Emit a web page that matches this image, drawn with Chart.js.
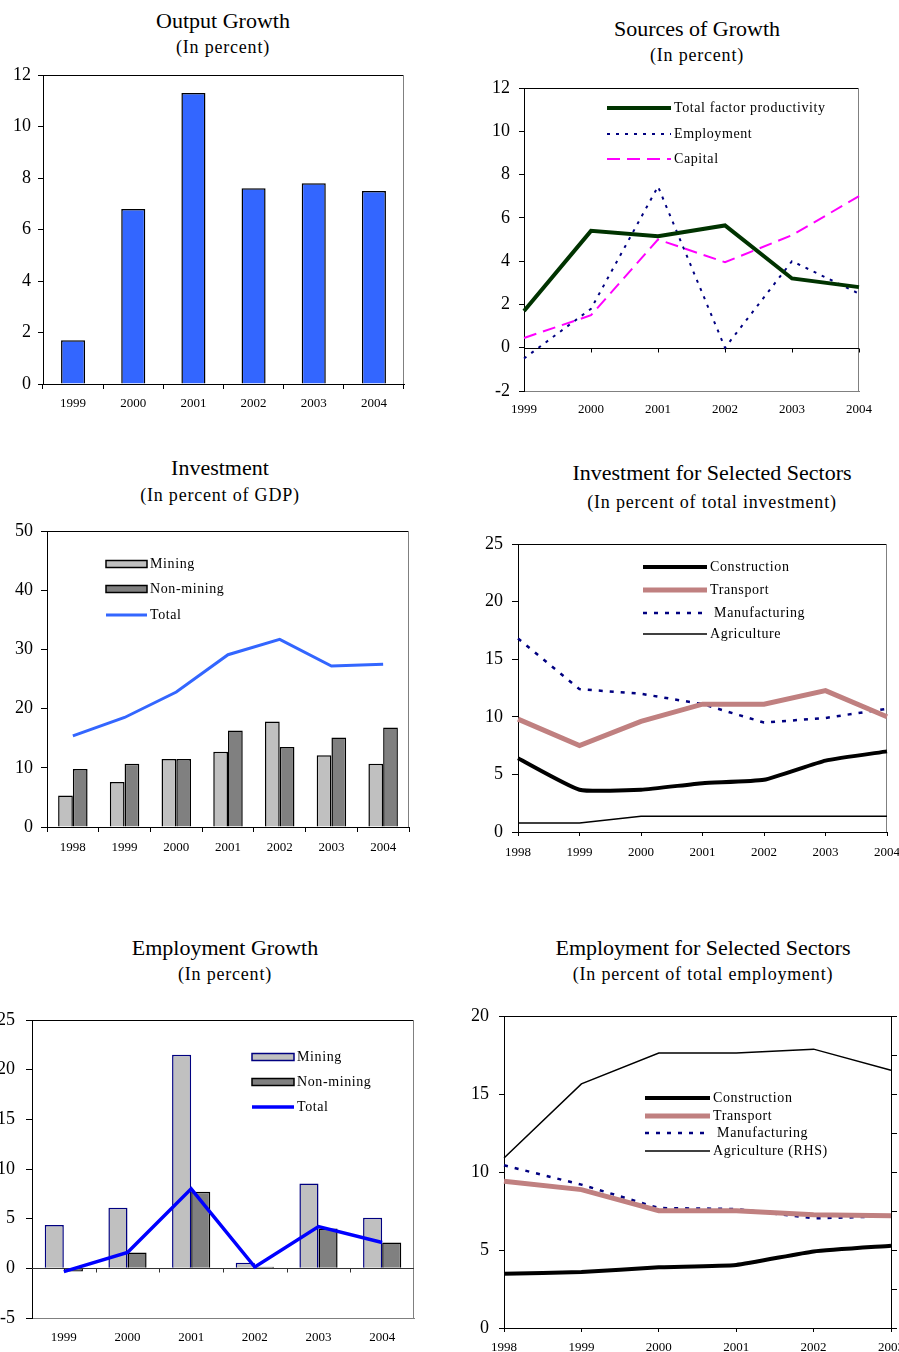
<!DOCTYPE html>
<html>
<head>
<meta charset="utf-8">
<script src="https://cdn.jsdelivr.net/npm/chart.js@4.4.0/dist/chart.umd.min.js"></script>
<style>
  html, body { margin: 0; padding: 0; background: #fff; }
  body { width: 899px; height: 1352px; position: relative; overflow: hidden; font-family: "Liberation Serif", "Times New Roman", serif; color: #000; }
  .box { position: absolute; }
  .ttl { position: absolute; width: 440px; text-align: center; white-space: nowrap; }
  .t1 { font-size: 22px; line-height: 22px; }
  .t2 { font-size: 18px; line-height: 18px; letter-spacing: 0.8px; }
</style>
</head>
<body>

<div class="ttl t1" style="left:3px;top:10px">Output Growth</div>
<div class="ttl t2" style="left:3px;top:38px">(In percent)</div>
<div class="box" style="left:0px;top:65px"><canvas id="outputChart" width="410" height="354"></canvas></div>

<div class="ttl t1" style="left:477px;top:18px">Sources of Growth</div>
<div class="ttl t2" style="left:477px;top:46px">(In percent)</div>
<div class="box" style="left:484px;top:78px"><canvas id="sourcesChart" width="395" height="343"></canvas></div>

<div class="ttl t1" style="left:0px;top:457px">Investment</div>
<div class="ttl t2" style="left:0px;top:486px">(In percent of GDP)</div>
<div class="box" style="left:0px;top:521px"><canvas id="investChart" width="415" height="341"></canvas></div>

<div class="ttl t1" style="left:492px;top:462px">Investment for Selected Sectors</div>
<div class="ttl t2" style="left:492px;top:493px">(In percent of total investment)</div>
<div class="box" style="left:478px;top:534px"><canvas id="invSectorChart" width="429" height="333"></canvas></div>

<div class="ttl t1" style="left:5px;top:937px">Employment Growth</div>
<div class="ttl t2" style="left:5px;top:965px">(In percent)</div>
<div class="box" style="left:-10px;top:1010px"><canvas id="empChart" width="430" height="343"></canvas></div>

<div class="ttl t1" style="left:483px;top:937px">Employment for Selected Sectors</div>
<div class="ttl t2" style="left:483px;top:965px">(In percent of total employment)</div>
<div class="box" style="left:464px;top:1006px"><canvas id="empSectorChart" width="467" height="357"></canvas></div>

<script>
// --- data ---
const outputYears = ['1999', '2000', '2001', '2002', '2003', '2004'];
const outputGrowth = [1.7, 6.8, 11.3, 7.6, 7.8, 7.5];

const sourceYears = ['1999', '2000', '2001', '2002', '2003', '2004'];
const tfp = [1.7, 5.4, 5.15, 5.65, 3.2, 2.8];
const employment = [-0.5, 1.8, 7.45, 0.0, 4.0, 2.5];
const capital = [0.45, 1.5, 5.0, 3.95, 5.2, 7.0];

const invYears = ['1998', '1999', '2000', '2001', '2002', '2003', '2004'];
const invMining = [5.3, 7.6, 11.5, 12.7, 17.8, 12.1, 10.7];
const invNonMining = [9.8, 10.7, 11.5, 16.3, 13.5, 15.1, 16.8];
const invTotal = [15.4, 18.5, 22.8, 29.1, 31.7, 27.2, 27.5];

const sectorYears = ['1998', '1999', '2000', '2001', '2002', '2003', '2004'];
const invConstruction = [6.4, 3.67, 3.67, 4.24, 4.53, 6.2, 7.0];
const invTransport = [9.8, 7.5, 9.6, 11.1, 11.1, 12.27, 10.0];
const invManufacturing = [16.8, 12.4, 12.0, 11.1, 9.5, 9.9, 10.7];
const invAgriculture = [0.78, 0.78, 1.36, 1.36, 1.36, 1.36, 1.36];

const empYears = ['1999', '2000', '2001', '2002', '2003', '2004'];
const empMining = [4.37, 6.1, 21.5, 0.56, 8.55, 5.1];
const empNonMining = [-0.33, 1.6, 7.7, 0.17, 4.0, 2.6];
const empTotal = [-0.33, 1.6, 8.0, 0.13, 4.2, 2.6];

const empSectorYears = ['1998', '1999', '2000', '2001', '2002', '2003'];
const empConstruction = [3.48, 3.59, 3.89, 4.04, 4.91, 5.28];
const empTransport = [9.4, 8.87, 7.52, 7.52, 7.26, 7.2];
const empManufacturing = [10.43, 9.19, 7.69, 7.63, 7.03, 7.16];
const empAgriculture = [43.6, 62.6, 70.5, 70.5, 71.5, 66.1]; // RHS

Chart.defaults.font.family = '"Liberation Serif", "Times New Roman", serif';
Chart.defaults.color = '#000';
Chart.defaults.animation = false;
Chart.defaults.responsive = false;
Chart.defaults.devicePixelRatio = 1;
Chart.defaults.plugins.legend.display = false;
Chart.defaults.plugins.tooltip.enabled = false;
Chart.defaults.elements.point.radius = 0;

// plot frame: top and right edges of the box
const framePlugin = {
    id: 'frame',
    beforeDatasetsDraw(chart, args, opts) {
        const a = chart.chartArea, ctx = chart.ctx;
        ctx.save();
        ctx.lineWidth = 1;
        ctx.strokeStyle = opts.top || '#000';
        ctx.beginPath(); ctx.moveTo(a.left, a.top + 0.5); ctx.lineTo(a.right, a.top + 0.5); ctx.stroke();
        if (opts.right !== false) {
            ctx.strokeStyle = opts.right || '#808080';
            ctx.beginPath(); ctx.moveTo(a.right - 0.5, a.top); ctx.lineTo(a.right - 0.5, a.bottom); ctx.stroke();
        }
        ctx.restore();
    }
};

// horizontal axis line at zero with small tick marks
const zeroPlugin = {
    id: 'zero',
    beforeDatasetsDraw(chart, args, opts) {
        const a = chart.chartArea, ctx = chart.ctx;
        const x = chart.scales.x, y0 = Math.round(chart.scales.y.getPixelForValue(0)) + 0.5;
        ctx.save();
        ctx.strokeStyle = opts.color || '#000';
        ctx.lineWidth = 1;
        ctx.beginPath(); ctx.moveTo(a.left, y0); ctx.lineTo(a.right, y0);
        const n = chart.data.labels.length;
        for (let i = 0; i < n; i++) {
            let px = x.getPixelForValue(i);
            if (opts.between) {
                if (i === n - 1) break;
                px = (px + x.getPixelForValue(i + 1)) / 2;
            }
            px = Math.round(px) + 0.5;
            ctx.moveTo(px, y0); ctx.lineTo(px, y0 + 4);
        }
        ctx.stroke();
        ctx.restore();
    }
};

// legend drawn inside the plot
const boxLegend = {
    id: 'boxLegend',
    afterDraw(chart, args, opts) {
        const ctx = chart.ctx;
        ctx.save();
        ctx.font = '14px "Liberation Serif", "Times New Roman", serif';
        ctx.letterSpacing = '0.6px';
        ctx.textBaseline = 'middle';
        chart.data.datasets.forEach((ds, i) => {
            const y = opts.rows[i];
            const type = ds.type || chart.config.type;
            if (type === 'bar') {
                ctx.fillStyle = ds.backgroundColor;
                ctx.fillRect(opts.x0, y - 3.5, opts.x1 - opts.x0, 7);
                ctx.strokeStyle = ds.borderColor;
                ctx.lineWidth = 1.5;
                ctx.strokeRect(opts.x0, y - 3.5, opts.x1 - opts.x0, 7);
            } else {
                ctx.setLineDash(ds.borderDash || []);
                ctx.strokeStyle = ds.borderColor;
                ctx.lineWidth = ds.borderWidth;
                ctx.beginPath(); ctx.moveTo(opts.x0, y); ctx.lineTo(opts.x1, y); ctx.stroke();
                ctx.setLineDash([]);
            }
            ctx.fillStyle = '#000';
            ctx.fillText(ds.label, opts.x1 + 3, y);
        });
        ctx.restore();
    }
};

function noPad(s) {
    s.paddingTop = 0; s.paddingBottom = 0; s.paddingLeft = 0; s.paddingRight = 0;
}

function yAxis(min, max, step, w, tick, pad) {
    return {
        min: min, max: max,
        ticks: { stepSize: step, font: { size: 18 }, padding: pad, color: '#000' },
        grid: { drawOnChartArea: false, tickLength: tick, color: '#000' },
        border: { color: '#000', width: 1 },
        afterFit: s => { s.width = w; noPad(s); }
    };
}

function xAxis(h, tick, pad, borderColor) {
    return {
        ticks: { font: { size: 13 }, padding: pad, color: '#000', maxRotation: 0, autoSkip: false },
        grid: { drawOnChartArea: false, drawTicks: tick > 0, tickLength: tick, color: '#000' },
        border: { color: borderColor || '#000', width: 1 },
        afterFit: s => { s.height = h; noPad(s); }
    };
}

// 1. Output Growth
new Chart(document.getElementById('outputChart'), {
    type: 'bar',
    data: {
        labels: outputYears,
        datasets: [{
            label: 'Output growth',
            data: outputGrowth,
            backgroundColor: '#3366ff',
            borderColor: '#000',
            borderWidth: 1.5,
            categoryPercentage: 1,
            barPercentage: 0.4
        }]
    },
    options: {
        layout: { autoPadding: false, padding: { top: 10, right: 6, left: 0, bottom: 0 } },
        scales: { x: xAxis(35, 5, 7), y: yAxis(0, 12, 2, 43, 5, 7) },
        plugins: { frame: {} }
    },
    plugins: [framePlugin]
});

// 2. Sources of Growth
new Chart(document.getElementById('sourcesChart'), {
    type: 'line',
    data: {
        labels: sourceYears,
        datasets: [
            { label: 'Total factor productivity', data: tfp, borderColor: '#003300', borderWidth: 4 },
            { label: 'Employment', data: employment, borderColor: '#000080', borderWidth: 2, borderDash: [3, 6] },
            { label: 'Capital', data: capital, borderColor: '#ff00ff', borderWidth: 2, borderDash: [13, 7] }
        ]
    },
    options: {
        layout: { autoPadding: false, padding: { top: 10, right: 20, left: 0, bottom: 0 } },
        scales: { x: xAxis(30, 0, 11, '#808080'), y: yAxis(-2, 12, 2, 40, 5, 9) },
        plugins: { frame: {}, zero: {}, boxLegend: { x0: 123, x1: 187, rows: [30, 56, 81] } }
    },
    plugins: [framePlugin, zeroPlugin, boxLegend]
});

// 3. Investment
new Chart(document.getElementById('investChart'), {
    type: 'bar',
    data: {
        labels: invYears,
        datasets: [
            { label: 'Mining', data: invMining, backgroundColor: '#c0c0c0', borderColor: '#000', borderWidth: 1.5, categoryPercentage: 0.57, barPercentage: 1, order: 2 },
            { label: 'Non-mining', data: invNonMining, backgroundColor: '#808080', borderColor: '#000', borderWidth: 1.5, categoryPercentage: 0.57, barPercentage: 1, order: 2 },
            { type: 'line', label: 'Total', data: invTotal, borderColor: '#3366ff', borderWidth: 3, order: 1 }
        ]
    },
    options: {
        layout: { autoPadding: false, padding: { top: 10, right: 6, left: 0, bottom: 0 } },
        scales: { x: xAxis(35, 5, 8), y: yAxis(0, 50, 10, 47, 6, 8) },
        plugins: { frame: {}, boxLegend: { x0: 106, x1: 147, rows: [43, 68, 94] } }
    },
    plugins: [framePlugin, boxLegend]
});

// 4. Investment for Selected Sectors
new Chart(document.getElementById('invSectorChart'), {
    type: 'line',
    data: {
        labels: sectorYears,
        datasets: [
            { label: 'Construction', data: invConstruction, borderColor: '#000', borderWidth: 4, tension: 0.15 },
            { label: 'Transport', data: invTransport, borderColor: '#c08080', borderWidth: 5 },
            { label: ' Manufacturing', data: invManufacturing, borderColor: '#000080', borderWidth: 2.5, borderDash: [4, 7] },
            { label: 'Agriculture', data: invAgriculture, borderColor: '#000', borderWidth: 1.5 }
        ]
    },
    options: {
        layout: { autoPadding: false, padding: { top: 10, right: 20, left: 0, bottom: 0 } },
        scales: { x: xAxis(35, 4, 9), y: yAxis(0, 25, 5, 40, 6, 9) },
        plugins: { frame: {}, boxLegend: { x0: 165, x1: 229, rows: [33, 56, 79, 100] } }
    },
    plugins: [framePlugin, boxLegend]
});

// 5. Employment Growth
new Chart(document.getElementById('empChart'), {
    type: 'bar',
    data: {
        labels: empYears,
        datasets: [
            { label: 'Mining', data: empMining, backgroundColor: '#c0c0c0', borderColor: '#000080', borderWidth: 1.5, categoryPercentage: 0.6, barPercentage: 1, order: 2 },
            { label: 'Non-mining', data: empNonMining, backgroundColor: '#808080', borderColor: '#000', borderWidth: 1.5, categoryPercentage: 0.6, barPercentage: 1, order: 2 },
            { type: 'line', label: 'Total', data: empTotal, borderColor: '#0000ff', borderWidth: 3.5, order: 1 }
        ]
    },
    options: {
        layout: { autoPadding: false, padding: { top: 10, right: 6, left: 0, bottom: 0 } },
        scales: { x: xAxis(35, 0, 12, '#808080'), y: yAxis(-5, 25, 5, 42, 6, 11) },
        plugins: { frame: {}, zero: { between: true, color: '#333' }, boxLegend: { x0: 262, x1: 304, rows: [47, 72, 97] } }
    },
    plugins: [framePlugin, zeroPlugin, boxLegend]
});

// 6. Employment for Selected Sectors
const empSectorY = yAxis(0, 20, 5, 40, 5, 10);
const empSectorY2 = yAxis(0, 80, 10, 40, 6, 6);
empSectorY2.position = 'right';
new Chart(document.getElementById('empSectorChart'), {
    type: 'line',
    data: {
        labels: empSectorYears,
        datasets: [
            { label: 'Construction', data: empConstruction, borderColor: '#000', borderWidth: 4, tension: 0.15, yAxisID: 'y' },
            { label: 'Transport', data: empTransport, borderColor: '#c08080', borderWidth: 5, yAxisID: 'y' },
            { label: ' Manufacturing', data: empManufacturing, borderColor: '#000080', borderWidth: 2.5, borderDash: [4, 7], yAxisID: 'y' },
            { label: 'Agriculture (RHS)', data: empAgriculture, borderColor: '#000', borderWidth: 1.5, yAxisID: 'y2' }
        ]
    },
    options: {
        layout: { autoPadding: false, padding: { top: 10, right: 0, left: 0, bottom: 0 } },
        scales: { x: xAxis(35, 4, 8), y: empSectorY, y2: empSectorY2 },
        plugins: { frame: { right: false }, boxLegend: { x0: 181, x1: 246, rows: [92, 110, 127, 145] } }
    },
    plugins: [framePlugin, boxLegend]
});
</script>
</body>
</html>
